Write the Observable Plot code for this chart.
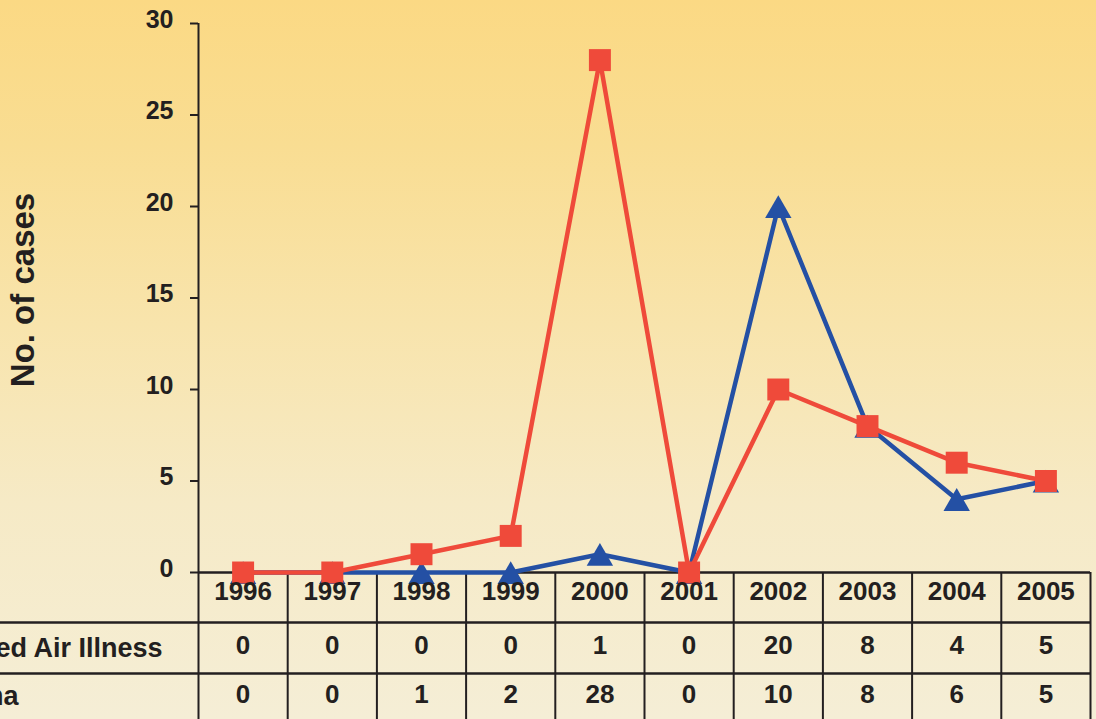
<!DOCTYPE html>
<html>
<head>
<meta charset="utf-8">
<script src="https://cdn.jsdelivr.net/npm/d3@7"></script>
<script src="https://cdn.jsdelivr.net/npm/@observablehq/plot@0.6"></script>
<style>
  html, body { margin: 0; padding: 0; }
  body {
    width: 1096px; height: 719px; overflow: hidden;
    background: linear-gradient(to bottom, #fbd984 0%, #f9dd92 20%, #f8e4ac 45%, #f6eac6 70%, #f5eed6 100%);
  }
  #chart svg { display: block; }
</style>
</head>
<body>
<div id="chart"></div>
<script>
// ---- data ----
const years = ["1996", "1997", "1998", "1999", "2000", "2001", "2002", "2003", "2004", "2005"];
const contaminatedAir = [0, 0, 0, 0, 1, 0, 20, 8, 4, 5];
const barotrauma = [0, 0, 1, 2, 28, 0, 10, 8, 6, 5];
const rowLabels = ["Contaminated Air Illness", "Barotrauma"];
const yTicks = [0, 5, 10, 15, 20, 25, 30];
const yLabel = "No. of cases";

// ---- styles ----
const ink = "#231f20";
const red = "#ef4a3a";
const blue = "#2450a4";
const font = "'Liberation Sans', Arial, Helvetica, sans-serif";

const rows = years.map((year, i) => ({year, col: i + 0.5, air: contaminatedAir[i], baro: barotrauma[i]}));
const colEdges = d3.range(1, years.length + 1);

const chart = Plot.plot({
  width: 1096,
  height: 719,
  marginLeft: 198,
  marginRight: 6,
  marginTop: 23,
  marginBottom: 147,
  style: {background: "transparent", fontFamily: font, color: ink, overflow: "visible"},
  x: {domain: [0, years.length], axis: null},
  y: {domain: [0, 30], axis: null},
  marks: [
    // y axis ticks and labels
    Plot.axisY({ticks: yTicks, tickSize: 8, tickFormat: () => "", label: null, strokeWidth: 2, stroke: ink}),
    Plot.axisY({ticks: yTicks, tickSize: 0, tickPadding: 25, label: null, fontSize: 25, fontWeight: "bold", dy: -4, fill: ink}),
    // y axis line continuing into the table
    Plot.ruleX([0], {stroke: ink, strokeWidth: 2, insetBottom: -147}),
    // table lines
    Plot.ruleX(colEdges, {stroke: ink, strokeWidth: 2, insetTop: 549, insetBottom: -147}),
    Plot.ruleY([0], {stroke: ink, strokeWidth: 2.5}),
    Plot.ruleY([0], {stroke: ink, strokeWidth: 2.5, dy: 50, insetLeft: -198}),
    Plot.ruleY([0], {stroke: ink, strokeWidth: 2.5, dy: 101, insetLeft: -198}),
    // series
    Plot.line(rows, {x: "col", y: "air", stroke: blue, strokeWidth: 4.5}),
    Plot.dot(rows, {x: "col", y: "air", symbol: "triangle", r: 9.8, fill: blue, dy: 4}),
    Plot.line(rows, {x: "col", y: "baro", stroke: red, strokeWidth: 4.5}),
    Plot.dot(rows, {x: "col", y: "baro", symbol: "square", r: 12.4, fill: red}),
    // table text
    Plot.text(rows, {x: "col", text: "year", frameAnchor: "bottom", dy: 19, lineAnchor: "middle", fontSize: 26, fontWeight: "bold", fill: ink}),
    Plot.text(rows, {x: "col", text: "air", frameAnchor: "bottom", dy: 73, lineAnchor: "middle", fontSize: 26, fontWeight: "bold", fill: ink}),
    Plot.text(rows, {x: "col", text: "baro", frameAnchor: "bottom", dy: 122, lineAnchor: "middle", fontSize: 26, fontWeight: "bold", fill: ink}),
    Plot.text([rowLabels[0]], {frameAnchor: "bottom-left", textAnchor: "end", lineAnchor: "middle", dx: -36, dy: 76, fontSize: 27, fontWeight: "bold", fill: ink}),
    Plot.text([rowLabels[1]], {frameAnchor: "bottom-left", textAnchor: "end", lineAnchor: "middle", dx: -180, dy: 124, fontSize: 27, fontWeight: "bold", fill: ink}),
    // y axis title
    Plot.text([yLabel], {frameAnchor: "left", rotate: -90, textAnchor: "middle", lineAnchor: "middle", dx: -175, dy: -8, fontSize: 33, fontWeight: "bold", fill: ink})
  ]
});
document.getElementById("chart").appendChild(chart);
</script>
</body>
</html>
